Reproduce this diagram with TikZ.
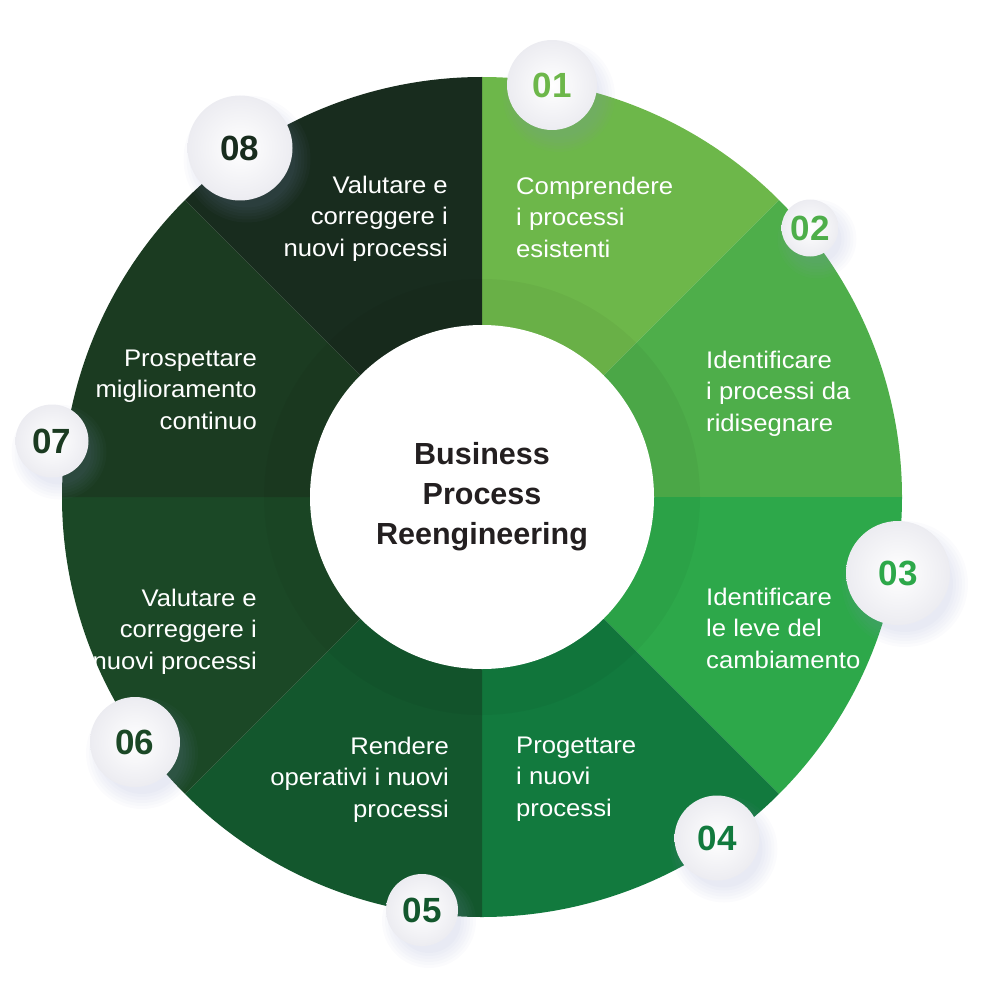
\documentclass[tikz,border=0pt]{standalone}
\usepackage{fontspec}
\setmainfont{Liberation Sans}
\newfontfamily\stepfont{Liberation Sans}[FakeStretch=1.07]
\usepackage{xcolor}
\definecolor{secA}{HTML}{6DB74A}
\definecolor{secB}{HTML}{4EAE4A}
\definecolor{secC}{HTML}{2DA84A}
\definecolor{secD}{HTML}{127A3E}
\definecolor{secE}{HTML}{13572D}
\definecolor{secF}{HTML}{1B4826}
\definecolor{secG}{HTML}{1B3B21}
\definecolor{secH}{HTML}{182C1E}
\definecolor{badgeshadow}{RGB}{140,150,200}
\definecolor{badgerim}{RGB}{236,236,241}
\definecolor{titleink}{HTML}{231F20}

\begin{document}
\begin{tikzpicture}[x=1pt,y=-1pt]
		\tikzstyle{every node}+=[inner sep=0pt]
		\tikzstyle{steptext}=[text=white,font=\stepfont\fontsize{24}{31.7}\selectfont]
		\tikzstyle{badge}=[circle,shading=radial,inner color=white,outer color=badgerim,font=\fontsize{35}{35}\selectfont\bfseries]
		\useasboundingbox (0,0) rectangle (1000,1000);
		% eight slices, clockwise from the top
		\foreach \c [count=\i] in {secA,secB,secC,secD,secE,secF,secG,secH}
			\fill [\c] (482,497) -- ++({-135+45*\i}:420) arc [start angle={-135+45*\i}, end angle={-90+45*\i}, radius=420] -- cycle;
		\fill [black,opacity=.035,even odd rule] (482,497) circle (218) circle (172);
		\node [circle,fill=white,minimum size=344pt,align=center,text=titleink,font=\fontsize{30.5}{40}\selectfont\bfseries] (hub) at (482,497) {Business\\Process\\Reengineering};
		% step labels
		\node [steptext,anchor=north west,align=left] (t1) at (516,176.5) {Comprendere\\i processi\\esistenti};
		\node [steptext,anchor=north west,align=left] (t2) at (706,350.5) {Identificare\\i processi da\\ridisegnare};
		\node [steptext,anchor=north west,align=left] (t3) at (706,587.5) {Identificare\\le leve del\\cambiamento};
		\node [steptext,anchor=north west,align=left] (t4) at (516,736.5) {Progettare\\i nuovi\\processi};
		\node [steptext,anchor=north east,align=right] (t5) at (449,736.5) {Rendere\\operativi i nuovi\\processi};
		\node [steptext,anchor=north east,align=right] (t6) at (257,588.5) {Valutare e\\correggere i\\nuovi processi};
		\node [steptext,anchor=north east,align=right] (t7) at (257,349.5) {Prospettare\\miglioramento\\continuo};
		\node [steptext,anchor=north east,align=right] (t8) at (448,175.5) {Valutare e\\correggere i\\nuovi processi};
		% numbered badges with soft shadow
		\foreach \x/\y/\r/\c/\t [count=\i] in {552/85/45/secA/01, 810/228/28.5/secB/02, 898/573/52/secC/03, 717/838/42.5/secD/04, 422/910/36/secE/05, 135/742/45/secF/06, 52/441/36.5/secG/07, 240/148/52.5/secH/08} {
			\foreach \k in {-4,-1,...,11}
				\fill [badgeshadow,opacity=.035] (\x+7,\y+11) circle ({\r+\k});
			\node [badge,minimum size={2*\r pt},text=\c] (n\i) at (\x,\y) {\t};
		}
	\end{tikzpicture}
\end{document}
